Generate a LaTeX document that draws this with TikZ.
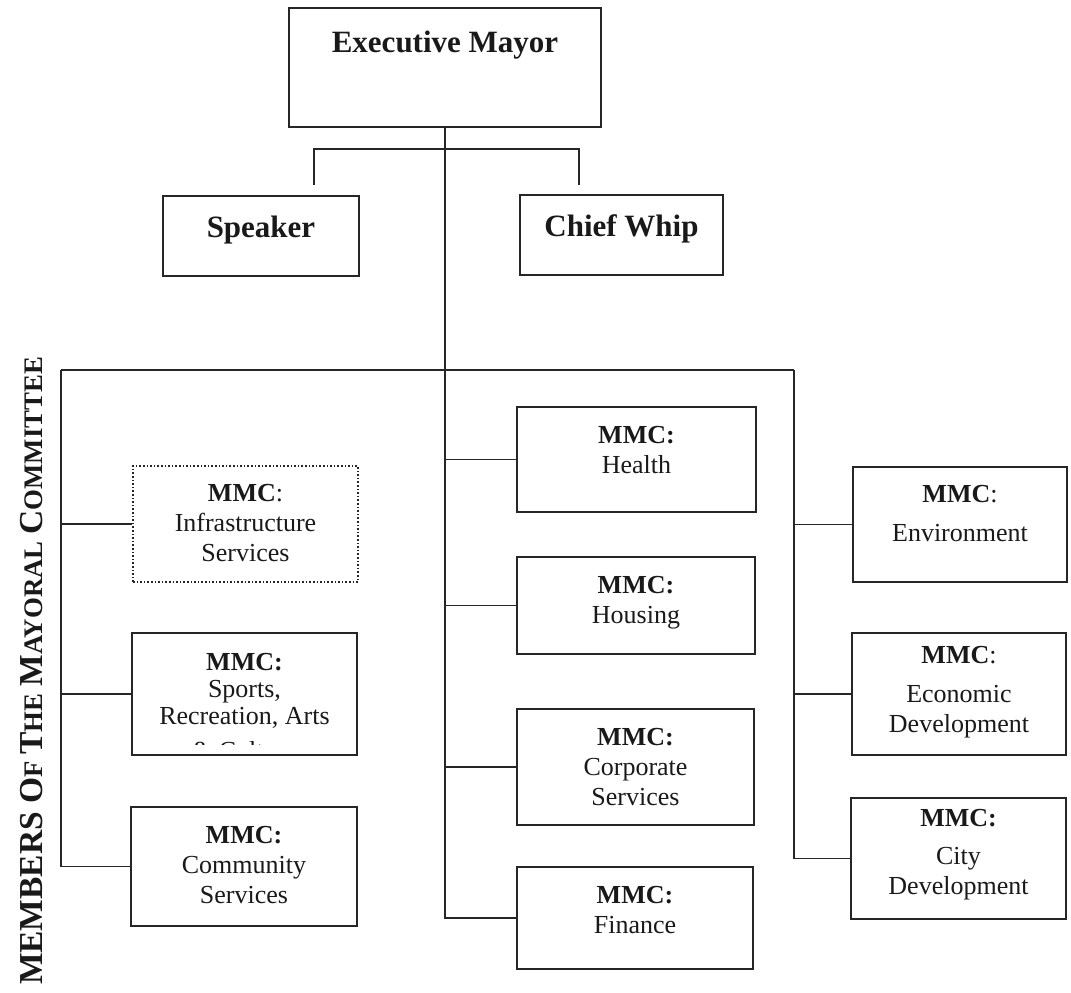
\documentclass[tikz,border=0pt]{standalone}
\usepackage{fontspec}
\setmainfont{Liberation Serif}
\newcommand{\bxt}[4]{\parbox[c][#2][t]{#1}{\centering\vspace*{#3}#4\par}}
\newcommand{\bigL}[1]{{\fontsize{33.5}{33.5}\selectfont #1}}
\newcommand{\smL}[1]{{\fontsize{26.8}{33.5}\selectfont #1}}
\tikzset{
  box/.style={draw=black!85, line width=1.6pt, inner sep=0pt, text=black!90},
  dotbox/.style={box, dotted, line width=1.4pt},
  conn/.style={draw=black!85, line width=1.6pt},
  titlefont/.style={font=\fontsize{31}{36}\selectfont\bfseries},
  mmcfont/.style={font=\fontsize{26}{30}\selectfont},
  tightfont/.style={font=\fontsize{26}{27}\selectfont},
}
\begin{document}
\begin{tikzpicture}[x=1pt,y=-1pt]
\useasboundingbox (0,0) rectangle (1071,993);
% top level
\node[box,titlefont] (mayor) at (445,67.5) {\bxt{312pt}{119pt}{23pt}{Executive Mayor}};
\node[box,titlefont] (spk) at (261,236) {\bxt{196pt}{80pt}{20pt}{Speaker}};
\node[box,titlefont] (cw) at (621.5,235) {\bxt{203pt}{80pt}{20pt}{Chief Whip}};
% left column
\node[dotbox,mmcfont] (inf) at (245.5,524) {\bxt{225pt}{116pt}{18.5pt}{\textbf{MMC}:\\Infrastructure\\Services}};
\node[box,tightfont] (spo) at (244.5,694) {\bxt{225pt}{122pt}{20pt}{\textbf{MMC:}\\Sports,\\Recreation, Arts}};
\node[box,mmcfont] (com) at (244,866.5) {\bxt{226pt}{119pt}{19pt}{\textbf{MMC:}\\Community\\Services}};
\begin{scope}
\clip (134,741) rectangle (355,744);
\node[mmcfont,anchor=base,text=black!90,inner sep=0pt] (spocut) at (244.5,759) {\& Culture};
\end{scope}
% middle column
\node[box,mmcfont] (hea) at (636.5,459.5) {\bxt{239pt}{105pt}{19pt}{\textbf{MMC:}\\Health}};
\node[box,mmcfont] (hou) at (636,605.5) {\bxt{238pt}{97pt}{19pt}{\textbf{MMC:}\\Housing}};
\node[box,mmcfont] (cor) at (635.5,767) {\bxt{237pt}{116pt}{19pt}{\textbf{MMC:}\\Corporate\\Services}};
\node[box,mmcfont] (fin) at (635,918) {\bxt{236pt}{102pt}{19pt}{\textbf{MMC:}\\Finance}};
% right column
\node[box,mmcfont] (env) at (960,524.5) {\bxt{214pt}{115pt}{18pt}{\textbf{MMC}:\\[9pt]Environment}};
\node[box,mmcfont] (eco) at (959,694) {\bxt{214pt}{122pt}{13pt}{\textbf{MMC}:\\[9pt]Economic\\Development}};
\node[box,mmcfont] (cit) at (958.5,858.5) {\bxt{215pt}{121pt}{11.5pt}{\textbf{MMC:}\\[8pt]City\\Development}};
% side label
\node[rotate=90,font=\bfseries,text=black!90,inner sep=0pt] (lbl) at (32,671)
  {\bigL{MEMBERS O}\smL{F }\bigL{T}\smL{HE }\bigL{M}\smL{AYORAL }\bigL{C}\smL{OMMITTEE}};
% connectors
\coordinate (brL) at (314,149);
\coordinate (brR) at (579,149);
\coordinate (spkTop) at (314,185);
\coordinate (cwTop) at (579,185);
\coordinate (barL) at (61,370);
\coordinate (barR) at (794,370);
\draw[conn] (spkTop) -- (brL) -- (brR) -- (cwTop);
\draw[conn] (mayor.south) -- (mayor.south |- fin.west) -- (fin.west);
\draw[conn] (barL) -- (barR);
\draw[conn] (barL) -- (barL |- com.west) -- (com.west);
\draw[conn] (barL |- inf.west) -- (inf.west);
\draw[conn] (barL |- spo.west) -- (spo.west);
\draw[conn] (mayor.south |- hea.west) -- (hea.west);
\draw[conn] (mayor.south |- hou.west) -- (hou.west);
\draw[conn] (mayor.south |- cor.west) -- (cor.west);
\draw[conn] (barR) -- (barR |- cit.west) -- (cit.west);
\draw[conn] (barR |- env.west) -- (env.west);
\draw[conn] (barR |- eco.west) -- (eco.west);
\end{tikzpicture}
\end{document}
